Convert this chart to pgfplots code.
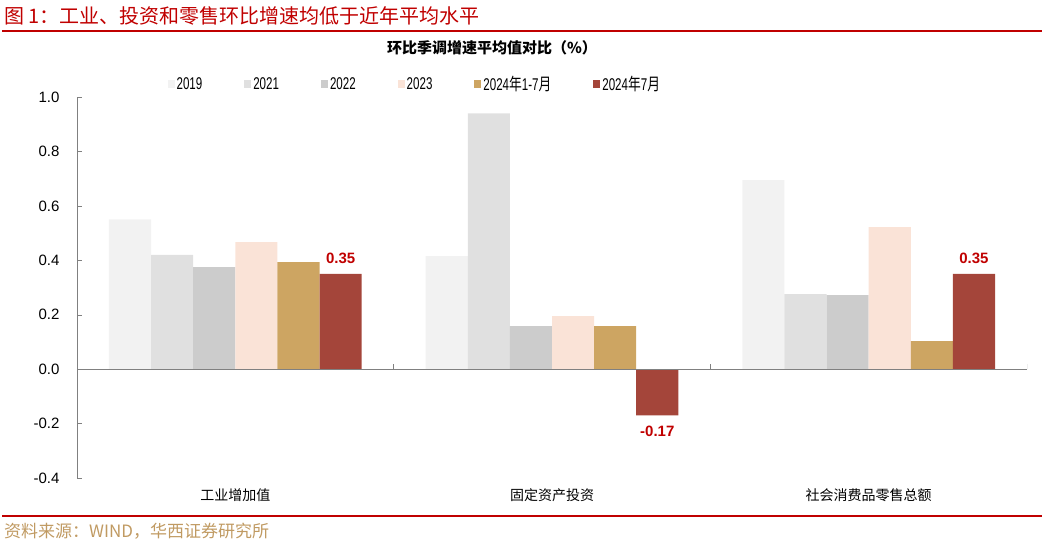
\documentclass[border=0pt]{standalone}
\usepackage{fontspec}
\setmainfont{Liberation Sans}
\newfontfamily\cjk{Noto Sans CJK SC}
\newfontfamily\narrow{Liberation Sans}[FakeStretch=0.68]
\newfontfamily\cjknarrow{Noto Sans CJK SC}[FakeStretch=0.75]
\usepackage{pgfplots}
\pgfplotsset{compat=1.18}
\definecolor{cA}{HTML}{F2F2F2}
\definecolor{cB}{HTML}{E0E0E0}
\definecolor{cC}{HTML}{CCCCCC}
\definecolor{cD}{HTML}{FAE3D7}
\definecolor{cE}{HTML}{CDA562}
\definecolor{cF}{HTML}{A4453A}
\definecolor{hxred}{HTML}{C00000}
\definecolor{hxtan}{HTML}{C09A62}
\definecolor{axgray}{HTML}{808080}
\begin{document}
\begin{tikzpicture}
\path[use as bounding box] (0,0) rectangle (1044pt,546pt);
% header and footer
\node[anchor=west, text=hxred, font=\cjk\fontsize{20}{20}\selectfont, inner sep=0] at (4pt,530pt)
  {图 1：工业、投资和零售环比增速均低于近年平均水平};
\draw[hxred, line width=2pt] (2pt,515pt) -- (1042pt,515pt);
\node[font=\cjk\bfseries\fontsize{15}{15}\selectfont, inner sep=0] at (492pt,498pt)
  {环比季调增速平均值对比（\%）};
\draw[hxred, line width=2pt] (2pt,30pt) -- (1042pt,30pt);
\node[anchor=west, text=hxtan, font=\cjk\fontsize{17}{17}\selectfont, inner sep=0] at (4pt,15pt)
  {资料来源：WIND，华西证券研究所};
\begin{axis}[
    at={(77pt,68pt)}, anchor=south west,
    scale only axis, width=950pt, height=381pt,
    ybar=0pt, bar width=0.133,
    xmin=-0.5, xmax=2.5, ymin=-0.4, ymax=1.0,
    axis x line*=bottom, axis y line*=left,
    x axis line style={draw=none},
    y axis line style={axgray},
    xtick={0,1,2},
    xticklabels={工业增加值,固定资产投资,社会消费品零售总额},
    xticklabel style={font=\cjk\fontsize{14}{14}\selectfont, yshift=-7pt},
    major x tick style={draw=none},
    ytick={-0.4,-0.2,0,0.2,0.4,0.6,0.8,1.0},
    yticklabel style={font=\fontsize{15}{15}\selectfont, xshift=-14pt},
    /pgf/number format/assume math mode=true,
    yticklabel={\pgfmathprintnumber[fixed,fixed zerofill,precision=1]{\tick}},
    y tick style={axgray}, tick align=inside, major tick length=4.5pt,
    legend columns=6,
    legend style={at={(0.092,1.034)}, anchor=west, draw=none, fill=none,
      font=\narrow\fontsize{17}{17}\selectfont,
      /tikz/every even column/.append style={column sep=40pt}},
    legend image code/.code={\fill[#1] (0pt,-4pt) rectangle (7pt,4pt);},
]
\addplot[fill=cA, draw=none] coordinates {(0,0.55) (1,0.415) (2,0.695)};
\addplot[fill=cB, draw=none] coordinates {(0,0.42) (1,0.94) (2,0.276)};
\addplot[fill=cC, draw=none] coordinates {(0,0.375) (1,0.158) (2,0.272)};
\addplot[fill=cD, draw=none] coordinates {(0,0.467) (1,0.195) (2,0.522)};
\addplot[fill=cE, draw=none] coordinates {(0,0.393) (1,0.158) (2,0.103)};
\addplot[fill=cF, draw=none,
    nodes near coords={\pgfmathprintnumber[fixed,fixed zerofill,precision=2]{\pgfplotspointmeta}},
    nodes near coords style={text=hxred, font=\bfseries\fontsize{15}{15}\selectfont, inner sep=10pt}]
  coordinates {(0,0.35) (1,-0.17) (2,0.35)};
\legend{2019,2021,2022,2023,2024{\cjknarrow 年}1-7{\cjknarrow 月},2024{\cjknarrow 年}7{\cjknarrow 月}}
\draw[axgray] (axis cs:-0.5,0) -- (axis cs:2.5,0);
\draw[axgray] (axis cs:0.5,0) -- ([yshift=5pt]axis cs:0.5,0);
\draw[axgray] (axis cs:1.5,0) -- ([yshift=5pt]axis cs:1.5,0);
\draw[axgray] (axis cs:2.5,0) -- ([yshift=5pt]axis cs:2.5,0);
\end{axis}
\end{tikzpicture}
\end{document}
